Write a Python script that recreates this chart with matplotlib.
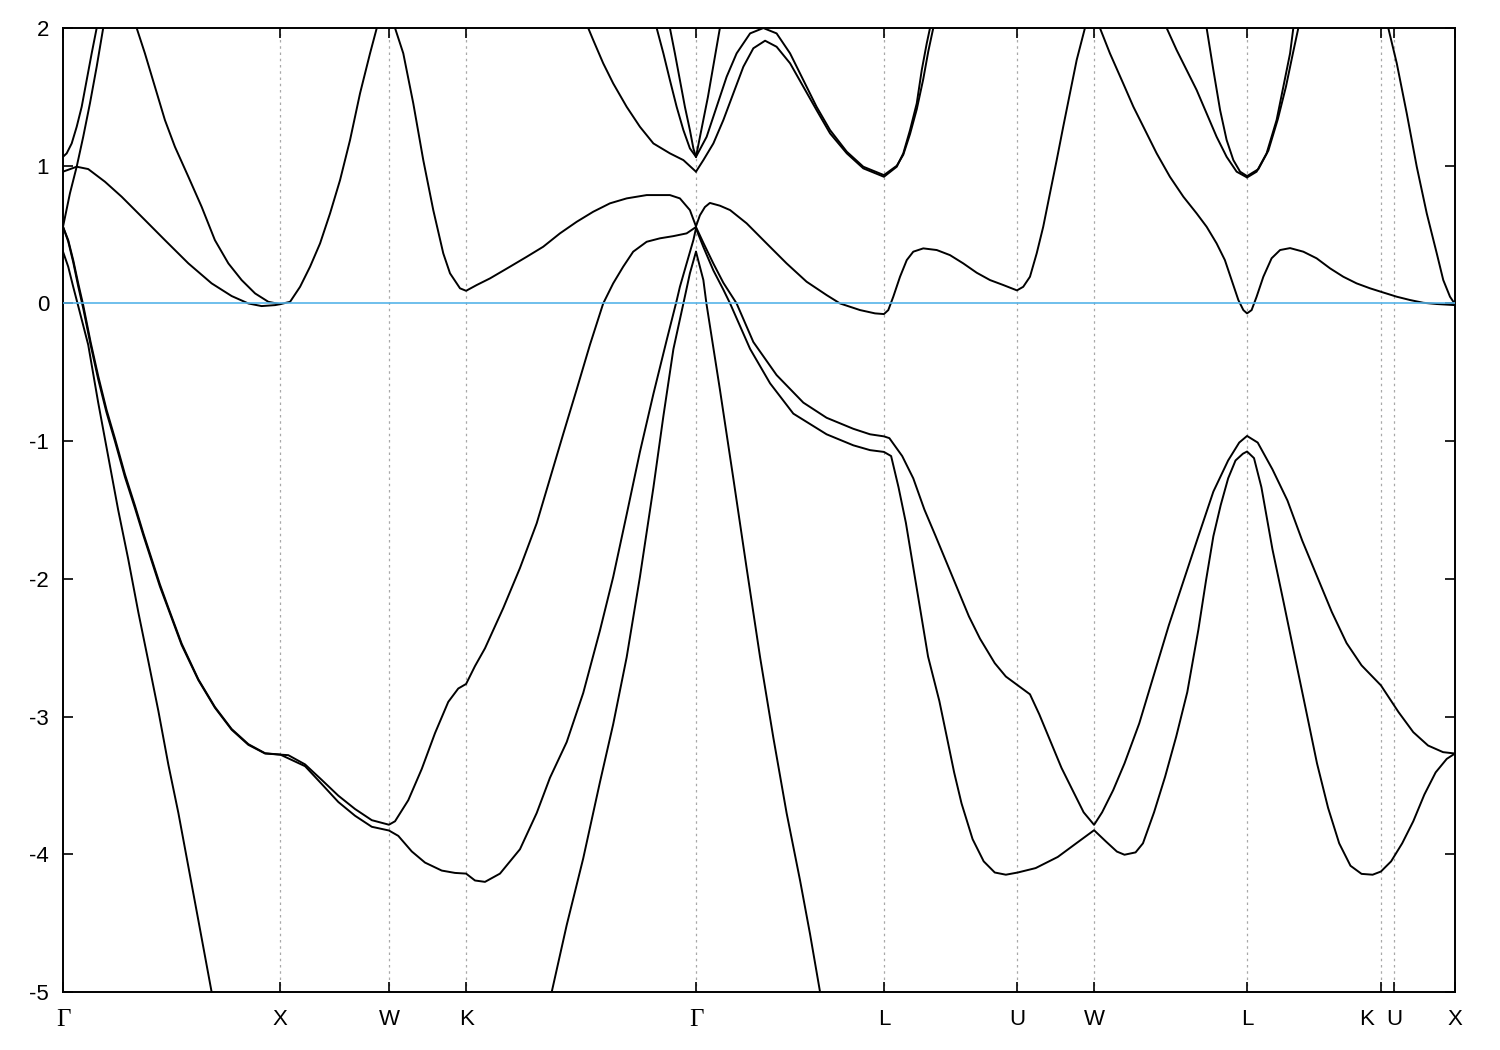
import matplotlib
matplotlib.use("Agg")
import matplotlib.pyplot as plt
import matplotlib.transforms as mtransforms

plt.rcParams["font.family"] = ["Liberation Sans", "DejaVu Sans"]
plt.rcParams["axes.unicode_minus"] = False

# high symmetry points along the path
sym_labels = ["Γ", "X", "W", "K", "Γ", "L", "U", "W", "L", "K", "U", "X"]
sym_pos = [0.0, 1.0, 1.5, 1.855, 2.913, 3.778, 4.390, 4.745, 5.449, 6.065, 6.125, 6.406]

# bands (k, energy in eV)
k_a = [0, 0.017, 0.040, 0.063, 0.086, 0.109, 0.132, 0.155, 0.170]
e_a = [1.065, 1.09, 1.162, 1.283, 1.428, 1.622, 1.816, 2.0, 2.12]

k_b = [0, 0.032, 0.063, 0.093, 0.124, 0.155, 0.185, 0.202]
e_b = [0.557, 0.80, 0.993, 1.21, 1.453, 1.719, 2.0, 2.13]

k_c = [0, 0.063, 0.116, 0.193, 0.270, 0.377, 0.469, 0.577, 0.684, 0.776, 0.853, 0.914, 0.976, 1.0,
       1.045, 1.091, 1.137, 1.183, 1.229, 1.275, 1.321, 1.367, 1.413, 1.444, 1.5,
       1.528, 1.566, 1.612, 1.658, 1.704, 1.750, 1.781, 1.827, 1.855,
       1.904, 1.965, 2.057, 2.134, 2.210, 2.287, 2.364, 2.440, 2.517, 2.594, 2.686, 2.793, 2.839, 2.885, 2.913]
e_c = [0.957, 0.993, 0.976, 0.884, 0.775, 0.606, 0.460, 0.291, 0.146, 0.054, 0.0, -0.019, -0.012, -0.005,
       0.012, 0.121, 0.267, 0.436, 0.654, 0.896, 1.187, 1.526, 1.816, 2.0, 2.25,
       2.0, 1.816, 1.453, 1.041, 0.678, 0.364, 0.219, 0.110, 0.092,
       0.134, 0.182, 0.267, 0.339, 0.412, 0.509, 0.593, 0.666, 0.727, 0.763, 0.787, 0.787, 0.763, 0.678, 0.56]

k_d = [0.308, 0.339, 0.377, 0.423, 0.469, 0.515, 0.577, 0.638, 0.699, 0.761, 0.822, 0.884, 0.945, 1.0]
e_d = [2.15, 2.0, 1.816, 1.574, 1.332, 1.138, 0.92, 0.702, 0.46, 0.291, 0.17, 0.073, 0.012, -0.005]

k_e = [0, 0.024, 0.047, 0.067, 0.116, 0.162, 0.208, 0.254, 0.300, 0.347, 0.393, 0.439, 0.485,
       0.531, 0.577, 0.623, 0.684, 0.700]
e_e = [0.376, 0.267, 0.121, 0.0, -0.30, -0.72, -1.11, -1.50, -1.855, -2.245, -2.60, -2.96, -3.35,
       -3.70, -4.09, -4.48, -5.0, -5.13]

k_f = [0, 0.024, 0.047, 0.070, 0.093, 0.127, 0.162, 0.200, 0.239, 0.285, 0.331, 0.370, 0.408, 0.446,
       0.485, 0.546, 0.623, 0.699, 0.776,
       0.853, 0.930, 1.0, 1.037, 1.114, 1.191, 1.267, 1.344, 1.421, 1.5, 1.528, 1.589, 1.651, 1.712,
       1.773, 1.819, 1.855, 1.896, 1.942, 2.026, 2.103, 2.180, 2.241, 2.302, 2.364, 2.425, 2.486,
       2.532, 2.578, 2.624, 2.686, 2.747, 2.809, 2.870, 2.913]
e_f = [0.557, 0.46, 0.315, 0.146, -0.012, -0.28, -0.527, -0.77, -0.98, -1.24, -1.467, -1.67, -1.855,
       -2.04, -2.21, -2.47, -2.73, -2.93,
       -3.09, -3.20, -3.266, -3.276, -3.28, -3.347, -3.46, -3.574, -3.671, -3.752, -3.785, -3.76,
       -3.607, -3.38, -3.12, -2.893, -2.796, -2.763, -2.633, -2.504, -2.212, -1.921, -1.596, -1.272,
       -0.948, -0.624, -0.30, 0.0, 0.146, 0.267, 0.376, 0.448, 0.473, 0.489, 0.509, 0.555]

k_g = [0, 0.024, 0.047, 0.070, 0.093, 0.127, 0.162, 0.200, 0.239, 0.285, 0.331, 0.370, 0.408, 0.446,
       0.485, 0.546, 0.623, 0.699, 0.776,
       0.853, 0.930, 1.0, 1.114, 1.191, 1.267, 1.344, 1.421, 1.5, 1.543, 1.605, 1.666, 1.743, 1.804,
       1.855, 1.896, 1.942, 2.011, 2.103, 2.180, 2.241, 2.318, 2.394, 2.471, 2.532, 2.594, 2.655,
       2.717, 2.778, 2.824, 2.839, 2.870, 2.901, 2.913]
e_g = [0.557, 0.45, 0.30, 0.125, -0.035, -0.30, -0.55, -0.79, -1.0, -1.26, -1.485, -1.685, -1.87,
       -2.055, -2.22, -2.48, -2.735, -2.935,
       -3.095, -3.205, -3.268, -3.276, -3.36, -3.49, -3.62, -3.72, -3.80, -3.827, -3.866, -3.979,
       -4.06, -4.118, -4.135, -4.14, -4.19, -4.2, -4.14, -3.963, -3.70, -3.444, -3.185, -2.829,
       -2.375, -1.986, -1.532, -1.078, -0.657, -0.267, 0.02, 0.121, 0.291, 0.46, 0.545]

k_sl = [2.232, 2.249, 2.318, 2.394, 2.471, 2.532, 2.594, 2.655, 2.717, 2.763, 2.809, 2.855, 2.885, 2.913]
e_sl = [-5.13, -5.0, -4.514, -4.03, -3.476, -3.055, -2.569, -1.986, -1.337, -0.818, -0.332, 0.0, 0.219, 0.376]

k_sr = [2.913, 2.947, 2.961, 3.023, 3.085, 3.146, 3.208, 3.269, 3.330, 3.392, 3.438, 3.484, 3.497]
e_sr = [0.376, 0.17, 0.0, -0.624, -1.272, -1.921, -2.569, -3.153, -3.70, -4.19, -4.58, -5.0, -5.13]

k_p1 = [2.913, 2.947, 2.993, 3.039, 3.100, 3.177, 3.284, 3.407, 3.514, 3.637, 3.714, 3.778, 3.803,
        3.862, 3.913, 3.964, 4.016, 4.067, 4.118, 4.169, 4.220, 4.288, 4.339, 4.394, 4.450, 4.493,
        4.544, 4.595, 4.646, 4.697, 4.745, 4.782, 4.833, 4.885, 4.953, 5.021, 5.089, 5.157, 5.225,
        5.294, 5.362, 5.413, 5.449, 5.498, 5.566, 5.635, 5.703, 5.771, 5.839, 5.907, 5.976, 6.065,
        6.146, 6.214, 6.282, 6.351, 6.406]
e_p1 = [0.555, 0.44, 0.29, 0.15, 0.0, -0.28, -0.52, -0.72, -0.83, -0.91, -0.95, -0.965, -0.978,
        -1.108, -1.27, -1.496, -1.69, -1.884, -2.078, -2.272, -2.434, -2.612, -2.709, -2.773, -2.838,
        -2.984, -3.178, -3.372, -3.534, -3.695, -3.786, -3.695, -3.534, -3.34, -3.049, -2.693, -2.337,
        -2.013, -1.69, -1.366, -1.14, -1.01, -0.962, -1.01, -1.205, -1.431, -1.722, -1.981, -2.24,
        -2.466, -2.628, -2.773, -2.967, -3.113, -3.21, -3.258, -3.268]

k_p2 = [2.913, 2.947, 2.993, 3.039, 3.070, 3.162, 3.254, 3.361, 3.514, 3.637, 3.714, 3.778, 3.811,
        3.845, 3.879, 3.913, 3.947, 3.981, 4.033, 4.067, 4.101, 4.135, 4.186, 4.237, 4.288, 4.339,
        4.394, 4.476, 4.578, 4.663, 4.745, 4.799, 4.850, 4.885, 4.936, 4.970, 5.021, 5.072, 5.123,
        5.174, 5.225, 5.260, 5.294, 5.328, 5.362, 5.396, 5.430, 5.449, 5.481, 5.515, 5.566, 5.618,
        5.669, 5.720, 5.771, 5.822, 5.873, 5.925, 5.976, 6.027, 6.065, 6.112, 6.163, 6.214, 6.265,
        6.317, 6.368, 6.406]
e_p2 = [0.545, 0.41, 0.24, 0.10, 0.0, -0.33, -0.58, -0.80, -0.95, -1.03, -1.065, -1.078, -1.108,
        -1.334, -1.593, -1.917, -2.24, -2.564, -2.887, -3.145, -3.405, -3.63, -3.89, -4.051, -4.132,
        -4.148, -4.132, -4.10, -4.019, -3.92, -3.825, -3.906, -3.98, -4.003, -3.986, -3.92, -3.695,
        -3.436, -3.145, -2.822, -2.369, -2.013, -1.69, -1.463, -1.27, -1.14, -1.091, -1.075, -1.123,
        -1.334, -1.786, -2.175, -2.564, -2.951, -3.34, -3.663, -3.92, -4.083, -4.142, -4.148, -4.125,
        -4.051, -3.92, -3.76, -3.566, -3.405, -3.307, -3.268]

k_q = [2.913, 2.931, 2.954, 2.977, 3.023, 3.070, 3.146, 3.238, 3.330, 3.422, 3.514, 3.576, 3.668,
       3.737, 3.778, 3.798, 3.821, 3.852, 3.883, 3.913, 3.959, 4.021, 4.082, 4.143, 4.205, 4.266,
       4.327, 4.390, 4.419, 4.450, 4.481, 4.511, 4.542, 4.573, 4.603, 4.634, 4.665, 4.703, 4.745,
       4.772, 4.818, 4.879, 4.926, 4.972, 5.033, 5.094, 5.156, 5.217, 5.263, 5.309, 5.347, 5.378,
       5.409, 5.432, 5.449, 5.470, 5.493, 5.524, 5.562, 5.601, 5.647, 5.708, 5.769, 5.831, 5.892,
       5.953, 6.015, 6.065, 6.138, 6.199, 6.260, 6.322, 6.406]
e_q = [0.56, 0.64, 0.70, 0.73, 0.71, 0.678, 0.582, 0.436, 0.291, 0.158, 0.061, 0.0, -0.048,
       -0.072, -0.077, -0.048, 0.049, 0.194, 0.315, 0.376, 0.40, 0.388, 0.351, 0.291, 0.223, 0.17,
       0.134, 0.095, 0.121, 0.194, 0.364, 0.557, 0.80, 1.041, 1.283, 1.526, 1.768, 2.0, 2.2,
       2.0, 1.816, 1.598, 1.428, 1.283, 1.09, 0.92, 0.775, 0.654, 0.557, 0.436, 0.315, 0.17,
       0.025, -0.048, -0.072, -0.048, 0.049, 0.194, 0.328, 0.388, 0.402, 0.376, 0.328, 0.255, 0.194,
       0.146, 0.11, 0.085, 0.049, 0.025, 0.005, -0.004, -0.012]

k_v1 = [2.913, 2.962, 3.008, 3.054, 3.100, 3.162, 3.223, 3.284, 3.346, 3.407, 3.468, 3.530, 3.607,
        3.683, 3.778, 3.837, 3.867, 3.898, 3.929, 3.959, 3.982, 4.005, 4.017]
e_v1 = [1.065, 1.21, 1.428, 1.646, 1.816, 1.961, 2.0, 1.961, 1.816, 1.622, 1.428, 1.259, 1.102,
        0.993, 0.932, 1.0, 1.08, 1.23, 1.41, 1.63, 1.83, 2.0, 2.1]

k_v2 = [2.913, 2.947, 2.993, 3.039, 3.085, 3.131, 3.177, 3.231, 3.284, 3.346, 3.407, 3.468, 3.530,
        3.607, 3.683, 3.778, 3.837, 3.867, 3.898, 3.929, 3.952, 3.975, 3.990, 3.999]
e_v2 = [0.957, 1.041, 1.162, 1.332, 1.526, 1.719, 1.853, 1.908, 1.864, 1.744, 1.574, 1.404, 1.235,
        1.09, 0.981, 0.92, 0.993, 1.09, 1.259, 1.453, 1.695, 1.889, 2.0, 2.08]

k_kg = [2.379, 2.417, 2.440, 2.486, 2.532, 2.594, 2.655, 2.717, 2.793, 2.855, 2.913]
e_kg = [2.14, 2.0, 1.913, 1.744, 1.598, 1.428, 1.283, 1.162, 1.09, 1.041, 0.957]

k_s1 = [2.701, 2.732, 2.763, 2.793, 2.824, 2.855, 2.885, 2.913]
e_s1 = [2.2, 2.0, 1.816, 1.622, 1.428, 1.259, 1.126, 1.065]

k_s2 = [2.780, 2.793, 2.816, 2.839, 2.862, 2.885, 2.901, 2.913]
e_s2 = [2.1, 2.0, 1.816, 1.622, 1.428, 1.259, 1.126, 1.065]

k_s3 = [2.913, 2.968, 3.023, 3.037]
e_s3 = [1.065, 1.5, 2.0, 2.12]

k_ol = [5.048, 5.079, 5.125, 5.171, 5.217, 5.263, 5.309, 5.355, 5.401, 5.449]
e_ol = [2.12, 2.0, 1.84, 1.695, 1.55, 1.38, 1.21, 1.065, 0.957, 0.915]

k_il = [5.258, 5.263, 5.294, 5.325, 5.355, 5.386, 5.417, 5.449]
e_il = [2.07, 2.0, 1.695, 1.404, 1.187, 1.041, 0.957, 0.925]

k_r1 = [5.449, 5.493, 5.539, 5.585, 5.616, 5.647, 5.662, 5.670]
e_r1 = [0.915, 0.957, 1.09, 1.332, 1.574, 1.816, 2.0, 2.08]

k_r2 = [5.449, 5.501, 5.547, 5.591, 5.628, 5.660, 5.685, 5.692]
e_r2 = [0.925, 0.975, 1.11, 1.34, 1.574, 1.816, 2.0, 2.08]

k_kx = [6.084, 6.099, 6.138, 6.184, 6.230, 6.276, 6.322, 6.352, 6.383, 6.406]
e_kx = [2.14, 2.0, 1.744, 1.38, 0.993, 0.654, 0.364, 0.17, 0.049, -0.005]

bands = [(k_a, e_a), (k_b, e_b), (k_c, e_c), (k_d, e_d), (k_e, e_e), (k_f, e_f), (k_g, e_g),
         (k_sl, e_sl), (k_sr, e_sr), (k_p1, e_p1), (k_p2, e_p2), (k_q, e_q), (k_v1, e_v1),
         (k_v2, e_v2), (k_kg, e_kg), (k_s1, e_s1), (k_s2, e_s2), (k_s3, e_s3), (k_ol, e_ol),
         (k_il, e_il), (k_r1, e_r1), (k_r2, e_r2), (k_kx, e_kx)]

fig = plt.figure(figsize=(15, 10.5), dpi=100)
ax = fig.add_axes([0.042, 0.0552, 0.928, 0.9181])

for x in sym_pos[1:-1]:
    ax.axvline(x, color="#a8a8a8", lw=0.9, ls=(0, (2, 3)), zorder=1)

for k, e in bands:
    ax.plot(k, e, color="black", lw=1.4, solid_capstyle="round", solid_joinstyle="round", zorder=2)

ax.axhline(0, color="#56b4e9", lw=1.2, zorder=3)

ax.set_xlim(sym_pos[0], sym_pos[-1])
ax.set_ylim(-5, 2)
ax.set_yticks(range(-5, 3))
ax.set_xticks(sym_pos)
ax.set_xticklabels(sym_labels)

ax.tick_params(axis="both", direction="in", length=7.5, width=1.2, labelsize=16,
               top=True, right=True)
ax.tick_params(axis="y", pad=10)
ax.tick_params(axis="x", pad=12)

xlabs = ax.get_xticklabels()
for lab in xlabs:
    if lab.get_text() == "Γ":
        lab.set_family(["Liberation Serif", "DejaVu Serif"])
        lab.set_fontsize(18)
# the K before U sits a bit left of its tick in the original
shift = mtransforms.ScaledTranslation(-14 / 100, 0, fig.dpi_scale_trans)
xlabs[9].set_transform(xlabs[9].get_transform() + shift)

for sp in ax.spines.values():
    sp.set_linewidth(1.4)

fig.savefig("out.png", dpi=100)
